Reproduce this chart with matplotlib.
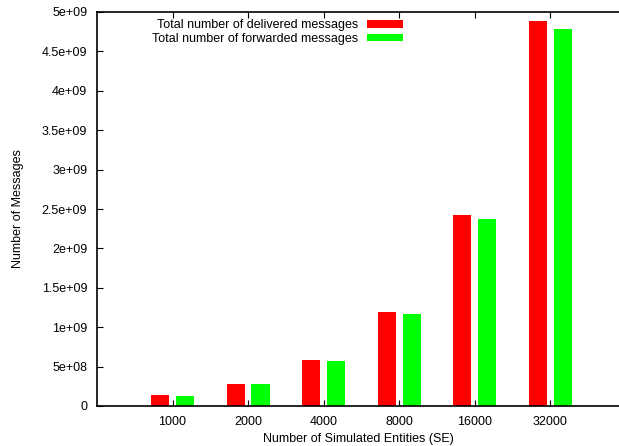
import matplotlib.pyplot as plt
import numpy as np

plt.rcParams['font.family'] = ['Liberation Sans', 'DejaVu Sans']

entities = ['1000', '2000', '4000', '8000', '16000', '32000']
delivered = [1.42e8, 2.85e8, 5.85e8, 1.195e9, 2.43e9, 4.885e9]
forwarded = [1.30e8, 2.83e8, 5.72e8, 1.168e9, 2.375e9, 4.785e9]
ytick_vals = [0, 5e8, 1e9, 1.5e9, 2e9, 2.5e9, 3e9, 3.5e9, 4e9, 4.5e9, 5e9]
ytick_labels = ['0', '5e+08', '1e+09', '1.5e+09', '2e+09', '2.5e+09',
                '3e+09', '3.5e+09', '4e+09', '4.5e+09', '5e+09']

fig = plt.figure(figsize=(6.19, 4.46), dpi=100)
ax = fig.add_axes([97 / 619, 40 / 446, 522 / 619, 394 / 446])

x = np.arange(len(entities))
w = 0.24
ax.bar(x - 0.165, delivered, w, color='#ff0000', label='Total number of delivered messages')
ax.bar(x + 0.165, forwarded, w, color='#00ff00', label='Total number of forwarded messages')

ax.set_xlim(-1, 5.91)
ax.set_ylim(0, 5e9)
ax.set_xticks(x)
ax.set_xticklabels(entities)
ax.set_yticks(ytick_vals)
ax.set_yticklabels(ytick_labels)
ax.tick_params(direction='in', length=4, width=0.8, labelsize=9, top=True,
               right=False, pad=7)
ax.tick_params(axis='x', pad=7)
for s in ['left', 'bottom', 'top']:
    ax.spines[s].set_linewidth(1.2)
ax.spines['right'].set_visible(False)

ax.set_xlabel('Number of Simulated Entities (SE)', fontsize=9, labelpad=4)
ax.set_ylabel('Number of Messages', fontsize=9, labelpad=13)

ax.legend(loc='upper right', bbox_to_anchor=((403 - 97) / 522, 1 - 7 / 394),
          frameon=False, markerfirst=False, fontsize=9, handlelength=2.9,
          handleheight=0.6, labelspacing=0.15, borderpad=0, borderaxespad=0,
          handletextpad=0.7)

fig.savefig('out.png', dpi=100)
